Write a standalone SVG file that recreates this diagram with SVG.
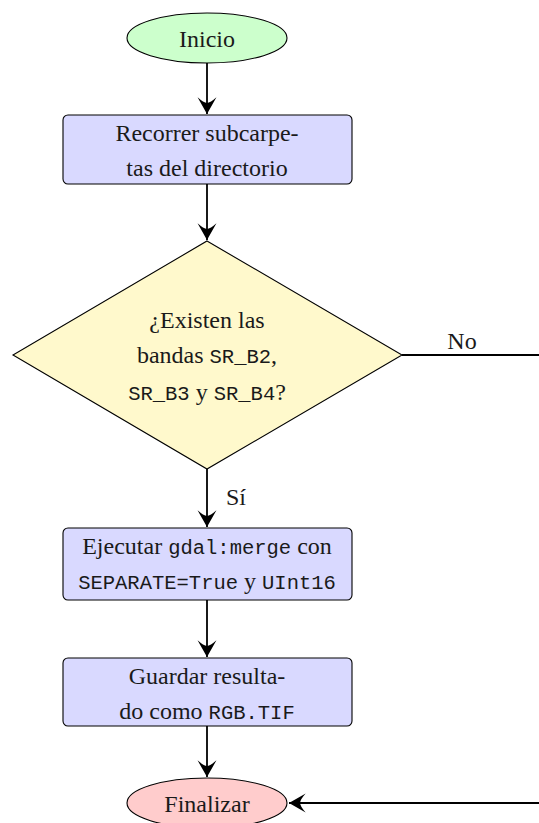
<svg xmlns="http://www.w3.org/2000/svg" width="539" height="823" viewBox="0 0 539 823">
  <style>
    .t { font-family: "Liberation Serif", "Times New Roman", serif; font-size: 24px; fill: #1a1a1a; text-anchor: middle; }
    .tl { font-family: "Liberation Serif", "Times New Roman", serif; font-size: 24px; fill: #1a1a1a; }
    .tt { font-family: "Liberation Mono", "Courier New", monospace; font-size: 20.5px; }
    .shape { stroke: #000; stroke-width: 1.1; }
    .start { fill: #ccffcc; }
    .proc { fill: #d9d9ff; }
    .dec { fill: #fff9cc; }
    .end { fill: #ffcccc; }
    .edge { fill: none; stroke: #000; stroke-width: 1.8; }
  </style>
  <defs>
    <marker id="arrow" markerUnits="userSpaceOnUse" markerWidth="20" markerHeight="20" viewBox="-16 -9 17 18" refX="0" refY="0" orient="auto">
      <path d="M0,0 L-15,-8.5 Q-10,-3 -10,0 Q-10,3 -15,8.5 Z" fill="#000"/>
    </marker>
  </defs>

  <g id="connectors">
    <line class="edge" x1="207" y1="63" x2="207" y2="114" marker-end="url(#arrow)"/>
    <line class="edge" x1="207" y1="184" x2="207" y2="240" marker-end="url(#arrow)"/>
    <line class="edge" x1="207" y1="469" x2="207" y2="527" marker-end="url(#arrow)"/>
    <line class="edge" x1="207" y1="600" x2="207" y2="657" marker-end="url(#arrow)"/>
    <line class="edge" x1="207" y1="726" x2="207" y2="777" marker-end="url(#arrow)"/>
    <line class="edge" x1="402" y1="355" x2="539" y2="355"/>
    <line class="edge" x1="539" y1="803" x2="289" y2="803" marker-end="url(#arrow)"/>
    <text class="t" x="462" y="349">No</text>
    <text class="tl" x="226" y="505">Sí</text>
  </g>

  <g id="inicio">
    <ellipse class="shape start" cx="207" cy="38" rx="80" ry="25"/>
    <text class="t" x="207" y="47">Inicio</text>
  </g>

  <g id="recorrer">
    <rect class="shape proc" x="63" y="115" width="289" height="69" rx="5"/>
    <text class="t" x="207" y="141">Recorrer subcarpe-</text>
    <text class="t" x="207" y="176">tas del directorio</text>
  </g>

  <g id="existen">
    <polygon class="shape dec" points="207,241 402,355 207,469 13,355"/>
    <text class="t" x="207" y="328">¿Existen las</text>
    <text class="t" x="207" y="363">bandas <tspan class="tt">SR_B2</tspan>,</text>
    <text class="t" x="207" y="400"><tspan class="tt">SR_B3</tspan> y <tspan class="tt">SR_B4</tspan>?</text>
  </g>

  <g id="ejecutar">
    <rect class="shape proc" x="63" y="528" width="289" height="72" rx="5"/>
    <text class="t" x="207" y="554">Ejecutar <tspan class="tt">gdal:merge</tspan> con</text>
    <text class="t" x="207" y="589"><tspan class="tt">SEPARATE=True</tspan> y <tspan class="tt">UInt16</tspan></text>
  </g>

  <g id="guardar">
    <rect class="shape proc" x="63" y="658" width="289" height="68" rx="5"/>
    <text class="t" x="207" y="684">Guardar resulta-</text>
    <text class="t" x="207" y="719">do como <tspan class="tt">RGB.TIF</tspan></text>
  </g>

  <g id="finalizar">
    <ellipse class="shape end" cx="207" cy="803" rx="80" ry="25"/>
    <text class="t" x="207" y="812">Finalizar</text>
  </g>
</svg>
